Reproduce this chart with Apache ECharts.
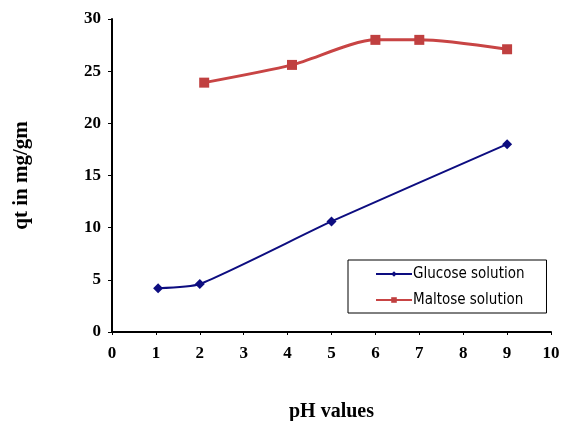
<!DOCTYPE html>
<html><head><meta charset="utf-8">
<script src="https://cdn.jsdelivr.net/npm/echarts@6/dist/echarts.min.js"></script>
<style>html,body{margin:0;padding:0;background:#fff}#c{width:566px;height:421px}</style>
</head><body><div id="c"></div>
<script>
const glucosePH = [1.05, 2.0, 5.0, 9.0];
const glucoseQt = [4.2, 4.6, 10.6, 18.0];
const maltosePH = [2.1, 4.1, 6.0, 7.0, 9.0];
const maltoseQt = [23.9, 25.6, 28.0, 28.0, 27.1];
const seriesNames = ['Glucose solution', 'Maltose solution'];
const xTitle = 'pH values';
const yTitle = 'qt in mg/gm';

const chart = echarts.init(document.getElementById('c'));
const serif = '"Liberation Serif","Times New Roman",serif';
chart.setOption({
  animation: false,
  backgroundColor: '#fff',
  grid: {left: 112, right: 15, top: 19, bottom: 89, containLabel: false, outerBoundsMode: 'none'},
  xAxis: {
    type: 'value', min: 0, max: 10, interval: 1,
    axisLine: {lineStyle: {color: '#000', width: 2}},
    axisTick: {show: true, length: 3, lineStyle: {color: '#000'}},
    splitLine: {show: false},
    axisLabel: {color: '#000', fontFamily: serif, fontWeight: 'bold', fontSize: 17, margin: 13},
    name: xTitle, nameLocation: 'middle', nameGap: 70,
    nameTextStyle: {color: '#000', fontFamily: serif, fontWeight: 'bold', fontSize: 20}
  },
  yAxis: {
    type: 'value', min: 0, max: 30, interval: 5,
    axisLine: {show: true, lineStyle: {color: '#000', width: 2}},
    axisTick: {show: true, length: 4, lineStyle: {color: '#000'}},
    splitLine: {show: false},
    axisLabel: {color: '#000', fontFamily: serif, fontWeight: 'bold', fontSize: 17, margin: 11},
    name: yTitle, nameLocation: 'middle', nameGap: 80, nameRotate: 90,
    nameTextStyle: {color: '#000', fontFamily: serif, fontWeight: 'bold', fontSize: 21}
  },
  legend: {
    orient: 'vertical', left: 348, top: 260,
    padding: [6, 22, 5, 27], itemGap: 10,
    borderColor: '#000', borderWidth: 1, backgroundColor: '#fff',
    itemWidth: 36, itemHeight: 7,
    textStyle: {color: '#000', fontFamily: '"DejaVu Sans Condensed","Liberation Sans Narrow","Liberation Sans",sans-serif', fontSize: 15, lineHeight: 16, padding: [0,0,0,-4]},
    data: seriesNames
  },
  series: [
    {
      name: seriesNames[0], type: 'line', smooth: 0.2,
      data: glucosePH.map((x, i) => [x, glucoseQt[i]]),
      symbol: 'diamond', symbolSize: 10,
      lineStyle: {color: '#0d0d80', width: 2},
      itemStyle: {color: '#0d0d80'}
    },
    {
      name: seriesNames[1], type: 'line', smooth: 0.25,
      data: maltosePH.map((x, i) => [x, maltoseQt[i]]),
      symbol: 'rect', symbolSize: 10,
      lineStyle: {color: '#c84444', width: 3},
      itemStyle: {color: '#c04040'}
    }
  ]
});
</script></body></html>
